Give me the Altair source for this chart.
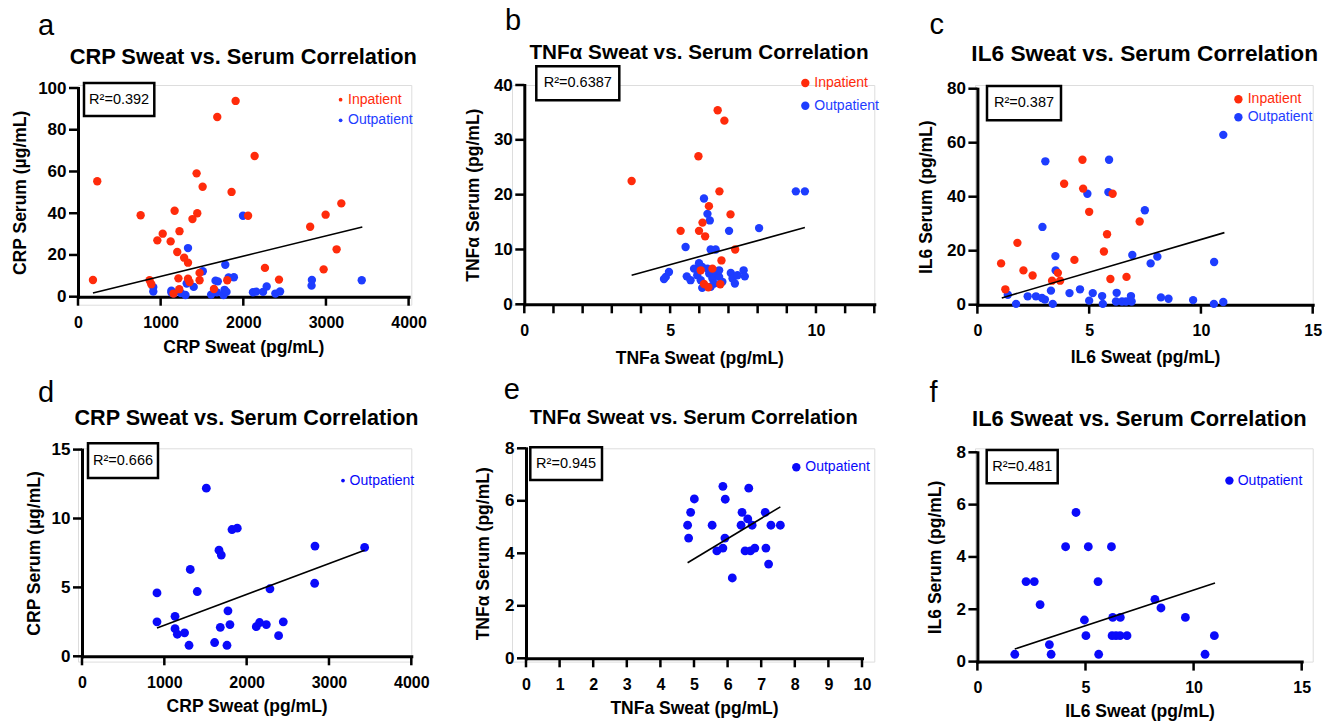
import altair as alt
import pandas as pd

FONT = "Liberation Sans"
RED = "#FF2B0B"
BLUE = "#1E3DFF"
BLUE2 = "#0A0AFA"

# ---------------- data ----------------
# a: CRP, all patients
a_in_x = [181, 233, 758, 866, 887, 960, 1025, 1121, 1169, 1228, 1201, 1284, 1331, 1215, 1155, 1225, 1385, 1443, 1435, 1508,
          1331, 1350, 1471, 1471, 1685, 1907, 1858, 1645, 1806, 2058, 2137, 2262, 2432, 2809, 2996, 3186, 3129, 2972]
a_in_y = [8.0, 55.3, 39.0, 7.9, 6.0, 27.0, 30.2, 26.5, 41.2, 31.4, 21.4, 18.7, 16.3, 8.8, 1.5, 3.6, 37.2, 40.0, 59.1, 52.7,
          8.6, 7.0, 11.4, 7.9, 86.1, 93.8, 50.2, 3.7, 7.9, 38.8, 67.4, 13.8, 8.2, 33.5, 39.3, 44.7, 22.7, 13.1]
a_out_x = [911, 911, 1130, 1130, 1158, 1246, 1300, 1315, 1400, 1510, 1611, 1664, 1692, 1680, 1761, 1773, 1797, 1822, 1886, 2117,
           2157, 2239, 2283, 2388, 2445, 2830, 2826, 3433, 1331, 1996, 1782]
a_out_y = [4.6, 2.5, 2.9, 2.0, 1.6, 1.7, 0.8, 6.3, 4.7, 12.2, 1.0, 7.7, 7.35, 2.1, 0.8, 3.3, 2.3, 9.2, 9.3, 2.15,
           2.45, 2.3, 4.9, 1.5, 2.5, 8.0, 5.3, 7.9, 23.3, 38.8, 15.3]
a_fit_x = [181, 3440]
a_fit_y = [1.8, 33.4]

# b: TNFa, all patients
b_in_x = [3.68, 6.63, 6.86, 5.97, 6.69, 6.33, 7.07, 5.36, 6.11, 5.99, 6.2, 7.23, 6.76, 6.05, 6.45, 6.16, 6.31, 6.72]
b_in_y = [22.5, 35.4, 33.5, 27.0, 20.6, 17.9, 16.4, 13.4, 14.9, 13.4, 12.4, 10.0, 8.0, 6.2, 6.5, 3.7, 3.1, 3.65]
b_out_x = [6.16, 6.28, 6.36, 7.02, 8.05, 9.31, 9.62, 5.53, 6.39, 6.56, 4.79, 4.85, 4.96, 5.57, 5.7, 5.82, 5.99, 6.1,
           5.93, 6.05, 6.1, 6.28, 6.34, 6.45, 6.56, 6.68, 6.79, 6.68, 7.08, 7.14, 7.22, 7.31, 7.52, 7.56, 6.51, 6.39]
b_out_y = [19.3, 16.5, 15.3, 13.4, 13.9, 20.6, 20.6, 10.45, 10.0, 10.0, 4.6, 5.0, 5.9, 5.1, 4.4, 6.5, 7.5, 6.8,
           5.3, 4.4, 3.0, 6.5, 5.6, 4.7, 5.9, 5.0, 4.1, 6.2, 5.7, 4.7, 3.8, 5.3, 6.2, 5.1, 3.8, 3.2]
b_fit_x = [3.68, 9.62]
b_fit_y = [5.3, 14.0]

# c: IL6, all patients
c_in_x = [1.06, 1.25, 1.79, 2.06, 2.47, 3.88, 4.34, 4.7, 4.73, 5.0, 6.05, 5.8, 5.66, 5.95, 6.67, 7.26, 3.34, 3.6, 3.7]
c_in_y = [15.3, 5.7, 22.9, 12.7, 10.8, 44.8, 16.6, 53.7, 43.0, 34.4, 41.1, 26.1, 19.7, 9.5, 10.3, 30.8, 8.9, 11.8, 8.9]
c_out_x = [3.04, 2.91, 5.89, 4.92, 5.86, 7.49, 6.93, 7.75, 8.05, 10.59, 11.0, 3.49, 3.5, 1.36, 1.73, 2.25, 2.62, 2.89, 3.02,
           3.29, 3.37, 4.12, 4.59, 5.0, 5.16, 5.58, 5.61, 6.23, 6.2, 6.47, 6.65, 6.87, 6.9, 8.21, 8.55, 9.65, 10.58, 11.0]
c_out_y = [53.1, 28.8, 53.7, 41.1, 41.7, 35.0, 18.4, 15.3, 17.8, 15.8, 62.9, 18.0, 12.7, 3.7, 0.3, 3.1, 3.1, 2.5, 1.9,
           5.2, 0.3, 4.3, 5.7, 1.5, 4.3, 3.2, 0.3, 4.4, 1.2, 1.2, 1.2, 3.2, 1.2, 2.7, 2.2, 1.7, 0.3, 1.0]
c_fit_x = [1.09, 11.05]
c_fit_y = [2.5, 26.7]

# d: CRP, outpatients
d_x = [911, 911, 1130, 1130, 1158, 1246, 1300, 1315, 1400, 1510, 1611, 1664, 1692, 1680, 1761, 1773, 1797, 1822, 1886, 2117,
       2157, 2239, 2283, 2388, 2445, 2830, 2826, 3433]
d_y = [4.6, 2.5, 2.9, 2.0, 1.6, 1.7, 0.8, 6.3, 4.7, 12.2, 1.0, 7.7, 7.35, 2.1, 0.8, 3.3, 2.3, 9.2, 9.3, 2.15,
       2.45, 2.3, 4.9, 1.5, 2.5, 8.0, 5.3, 7.9]
d_fit_x = [911, 3433]
d_fit_y = [2.05, 7.7]

# e: TNFa, outpatients
e_x = [4.81, 4.84, 4.9, 5.01, 5.54, 5.68, 5.86, 5.86, 5.93, 5.92, 6.14, 6.43, 6.40, 6.52, 6.6, 6.63, 6.68, 6.73, 6.81,
       7.12, 7.14, 7.22, 7.29, 7.57]
e_y = [5.07, 4.58, 5.56, 6.07, 5.07, 4.09, 6.55, 4.2, 6.06, 4.58, 3.06, 5.56, 5.07, 4.09, 5.31, 6.48, 4.09, 5.07, 4.2,
       5.56, 4.2, 3.59, 5.07, 5.07]
e_fit_x = [4.81, 7.57]
e_fit_y = [3.64, 5.77]

# f: IL6, outpatients
f_x = [1.73, 2.25, 2.63, 2.9, 3.33, 3.41, 4.08, 4.56, 4.95, 5.02, 5.13, 5.58, 5.61, 6.2, 6.26, 6.61, 6.23, 6.41, 6.6, 6.92,
       8.21, 8.49, 9.62, 10.53, 10.96]
f_y = [0.28, 3.06, 3.06, 2.18, 0.65, 0.28, 4.39, 5.7, 1.59, 0.99, 4.39, 3.06, 0.28, 4.39, 1.69, 1.69, 0.99, 0.99, 0.99, 0.99,
       2.38, 2.05, 1.69, 0.28, 0.99]
f_fit_x = [1.73, 10.99]
f_fit_y = [0.48, 3.0]

r2_labels = ["R²=0.392", "R²=0.6387", "R²=0.387", "R²=0.666", "R²=0.945", "R²=0.481"]
titles = ["CRP Sweat vs. Serum Correlation", "TNFα Sweat vs. Serum Correlation", "IL6 Sweat vs. Serum Correlation",
          "CRP Sweat vs. Serum Correlation", "TNFα Sweat vs. Serum Correlation", "IL6 Sweat vs. Serum Correlation"]
letters = ["a", "b", "c", "d", "e", "f"]
x_titles = ["CRP Sweat (pg/mL)", "TNFa Sweat (pg/mL)", "IL6 Sweat (pg/mL)",
            "CRP Sweat (pg/mL)", "TNFa Sweat (pg/mL)", "IL6 Sweat (pg/mL)"]
y_titles = ["CRP Serum (µg/mL)", "TNFα Serum (pg/mL)", "IL6 Serum (pg/mL)",
            "CRP Serum (µg/mL)", "TNFα Serum (pg/mL)", "IL6 Serum (pg/mL)"]

# ---------------- layout (pixels) ----------------
COL_LEFT = [76.7, 510.0, 972.3]
COL_W = [333.3, 362.3, 337.7]
ROW_TOP = [83.0, 446.0]
ROW_H = [219.7, 213.3]
TICK = 9

AX = dict(domainColor="black", domainWidth=3, domainCap="square", ticks=False, tickSize=0,
          labelFont=FONT, labelFontWeight="bold", labelColor="black", format="d",
          titleFont=FONT, titleFontSize=17.5, titleFontWeight="bold", titleColor="black",
          grid=False, labelFlush=False, labelOverlap=False)


def text_layer(t, x, y, size, color="black", weight="normal", align="left", baseline="alphabetic"):
    return alt.Chart(pd.DataFrame({"t": [t]})).mark_text(
        font=FONT, fontSize=size, fontWeight=weight, color=color, align=align, baseline=baseline
    ).encode(x=alt.value(x), y=alt.value(y), text="t:N")


def make_panel(i, cell, plot, groups, fit, xdom, xticks, ydom, yticks, ytitle_dx, xtitle_dy,
               box, legend, title_pos, letter_pos, psize, label_expr=None):
    col, row = cell
    ox, oy = COL_LEFT[col], ROW_TOP[row]
    W, H = COL_W[col], ROW_H[row]
    px0, py0, px1, py1 = plot
    rx = [px0 - ox, px1 - ox]
    ry = [py1 - oy, py0 - oy]
    xax_kw = dict(AX)
    if label_expr:
        xax_kw["labelExpr"] = label_expr
    xax = alt.Axis(title=x_titles[i], values=xticks, offset=ry[0] - H, titleY=xtitle_dy,
                   titleX=(rx[0] + rx[1]) / 2, titleBaseline="alphabetic", labelPadding=TICK + 9,
                   labelFontSize=16, **xax_kw)
    yax = alt.Axis(title=y_titles[i], values=yticks, offset=-rx[0], titleX=ytitle_dx,
                   titleY=(ry[0] + ry[1]) / 2, titleAngle=270, titleBaseline="middle", labelPadding=TICK + 3,
                   labelFontSize=17, **AX)
    xscale = alt.Scale(domain=xdom, range=rx, nice=False, zero=False)
    yscale = alt.Scale(domain=ydom, range=ry, nice=False, zero=False)
    X = alt.X("x:Q", scale=xscale, axis=xax)
    Y = alt.Y("y:Q", scale=yscale, axis=yax)

    # tick marks drawn as short line segments through the same scales;
    # the tick length (TICK px) is converted to data units of each scale
    dx_unit = TICK * (xdom[1] - xdom[0]) / (rx[1] - rx[0])
    dy_unit = TICK * (ydom[1] - ydom[0]) / (ry[0] - ry[1])
    xt_rows = []
    for k, v in enumerate(xticks):
        xt_rows += [{"x": v, "y": ydom[0], "k": k}, {"x": v, "y": ydom[0] - dy_unit, "k": k}]
    yt_rows = []
    for k, v in enumerate(yticks):
        yt_rows += [{"x": xdom[0], "y": v, "k": k}, {"x": xdom[0] - dx_unit, "y": v, "k": k}]
    xt = alt.Chart(pd.DataFrame(xt_rows)).mark_line(color="black", strokeWidth=2.5, strokeCap="butt").encode(
        x=X, y=Y, detail="k:N", order="y:Q")
    yt = alt.Chart(pd.DataFrame(yt_rows)).mark_line(color="black", strokeWidth=2.5, strokeCap="butt").encode(
        x=X, y=Y, detail="k:N", order="x:Q")

    frames = [pd.DataFrame({"x": xs, "y": ys, "c": c}) for xs, ys, c in groups]
    df = pd.concat(frames, ignore_index=True)
    points = alt.Chart(df).mark_circle(size=psize, opacity=1).encode(
        x=X, y=Y, color=alt.Color("c:N", scale=None))
    line = alt.Chart(pd.DataFrame({"x": fit[0], "y": fit[1]})).mark_line(
        color="black", strokeWidth=1.6).encode(x=X, y=Y)

    bx0, by0, bx1, by1 = box
    rect = alt.Chart(pd.DataFrame({"t": [0]})).mark_rect(
        fill="white", stroke="black", strokeWidth=2.5).encode(
        x=alt.value(bx0 - ox), x2=alt.value(bx1 - ox), y=alt.value(by0 - oy), y2=alt.value(by1 - oy))
    r2 = text_layer(r2_labels[i], (bx0 + bx1) / 2 - ox, (by0 + by1) / 2 - oy, 14.5,
                    align="center", baseline="middle")

    layers = [xt, yt, points, line, rect, r2]
    for label, color, dx, dy, dsize, tx in legend:
        layers.append(alt.Chart(pd.DataFrame({"t": [label]})).mark_circle(size=dsize, opacity=1, color=color)
                      .encode(x=alt.value(dx - ox), y=alt.value(dy - oy)))
        layers.append(text_layer(label, tx - ox, dy - oy, 14, color=color, baseline="middle"))

    tx, ty, tfs = title_pos
    layers.append(text_layer(titles[i], tx - ox, ty - oy, tfs, weight="bold", align="center"))
    lx, ly = letter_pos
    layers.append(text_layer(letters[i], lx - ox, ly - oy, 29))
    return alt.layer(*layers).properties(width=W, height=H)


pa = make_panel(0, (0, 0), (76.7, 86, 407.3, 294.7),
                [(a_out_x, a_out_y, BLUE), (a_in_x, a_in_y, RED)], (a_fit_x, a_fit_y),
                [0, 4000], [0, 1000, 2000, 3000, 4000], [0, 100], [0, 20, 40, 60, 80, 100], -57.7, 56,
                (82.7, 81, 153, 114),
                [("Inpatient", RED, 339.3, 97.7, 14, 346.7), ("Outpatient", BLUE, 339.3, 118.3, 14, 346.7)],
                (242, 61.7, 21.8), (36.7, 33.3), 70)
pb = make_panel(1, (1, 0), (522.3, 83, 872.3, 302.3),
                [(b_out_x, b_out_y, BLUE), (b_in_x, b_in_y, RED)], (b_fit_x, b_fit_y),
                [0, 12], list(range(0, 13)), [0, 40], [0, 10, 20, 30, 40], -51, 58.7,
                (534.3, 64.3, 617.3, 98.3),
                [("Inpatient", RED, 803.3, 81, 70, 812.3), ("Outpatient", BLUE, 803.3, 103.7, 70, 812.3)],
                (697, 56.7, 20.7), (503, 28.3), 70, label_expr="datum.value % 5 == 0 ? datum.label : ''")
pc = make_panel(2, (2, 0), (974.7, 86.7, 1310, 302.7),
                [(c_out_x, c_out_y, BLUE), (c_in_x, c_in_y, RED)], (c_fit_x, c_fit_y),
                [0, 15], [0, 5, 10, 15], [0, 80], [0, 20, 40, 60, 80], -51.3, 58,
                (984.3, 84, 1058.3, 118.3),
                [("Inpatient", RED, 1235.7, 97.3, 70, 1245), ("Outpatient", BLUE, 1235.7, 115.3, 70, 1245)],
                (1142, 59.3, 22.7), (926.7, 32.3), 70)
pd_ = make_panel(3, (0, 1), (80.7, 447.3, 410, 654),
                 [(d_x, d_y, BLUE2)], (d_fit_x, d_fit_y),
                 [0, 4000], [0, 1000, 2000, 3000, 4000], [0, 15], [0, 5, 10, 15], -48, 55,
                 (86.7, 441, 156.7, 475.7),
                 [("Outpatient", BLUE2, 341.7, 478.3, 14, 348.3)],
                 (245.2, 422.7, 21.6), (36.7, 400), 78)
pe = make_panel(4, (1, 1), (524, 446, 860, 656),
                [(e_x, e_y, BLUE2)], (e_fit_x, e_fit_y),
                [0, 10], list(range(0, 11)), [0, 8], [0, 2, 4, 6, 8], -42.3, 55.5,
                (528.3, 445, 600, 477.7),
                [("Outpatient", BLUE2, 794.3, 465, 70, 803.3)],
                (691.7, 421.7, 20), (501.7, 396.7), 78)
pf = make_panel(5, (2, 1), (974.7, 450, 1299, 659.3),
                [(f_x, f_y, BLUE2)], (f_fit_x, f_fit_y),
                [0, 15], [0, 5, 10, 15], [0, 8], [0, 2, 4, 6, 8], -42, 54.7,
                (984, 447.7, 1055, 481),
                [("Outpatient", BLUE2, 1226.7, 478.3, 70, 1235)],
                (1136.7, 424, 21.9), (926.7, 400), 78)

chart = alt.concat(pa, pb, pc, pd_, pe, pf, columns=3, bounds="flush",
                   spacing={"row": 143.3, "column": 100}).properties(
    background="white", padding={"left": 10, "top": 6, "right": 0, "bottom": 0}
).configure_view(stroke=None).configure(font=FONT)

chart.save("out.html", embed_options={"renderer": "svg", "actions": False})
